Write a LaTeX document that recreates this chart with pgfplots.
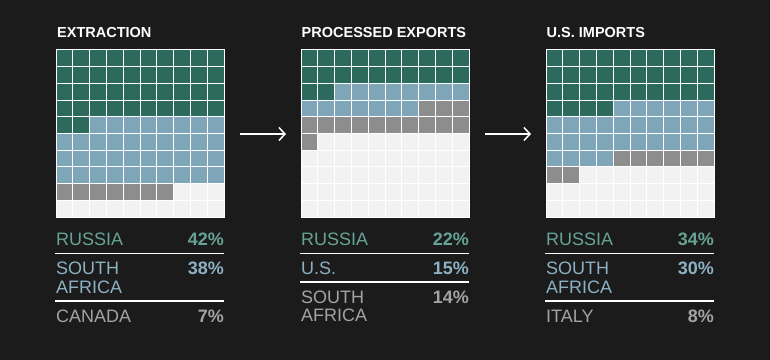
\documentclass[border=0pt]{standalone}
\usepackage{pgfplots}
\pgfplotsset{compat=1.18}
\usepackage{pgfplotstable}
\usetikzlibrary{arrows.meta}
\usepackage{fontspec}
\setmainfont{Liberation Sans}

\definecolor{bgc}{HTML}{1B1B1B}
\definecolor{cgreen}{HTML}{2C6A5E}
\definecolor{cblue}{HTML}{7EA6B8}
\definecolor{cgray}{HTML}{8D8D8D}
\definecolor{cempty}{HTML}{F2F2F2}
\definecolor{tgreen}{HTML}{67A394}
\definecolor{tblue}{HTML}{8CB1C3}
\definecolor{tgray}{HTML}{A3A3A3}

% rows of each 10x10 waffle: cells per category in each row
\pgfplotstableread{
row a b c rest
0.5 10 0 0 0
1.5 10 0 0 0
2.5 10 0 0 0
3.5 10 0 0 0
4.5 2 8 0 0
5.5 0 10 0 0
6.5 0 10 0 0
7.5 0 10 0 0
8.5 0 0 7 3
9.5 0 0 0 10
}\extraction
\pgfplotstableread{
row a b c rest
0.5 10 0 0 0
1.5 10 0 0 0
2.5 2 8 0 0
3.5 0 7 3 0
4.5 0 0 10 0
5.5 0 0 1 9
6.5 0 0 0 10
7.5 0 0 0 10
8.5 0 0 0 10
9.5 0 0 0 10
}\processed
\pgfplotstableread{
row a b c rest
0.5 10 0 0 0
1.5 10 0 0 0
2.5 10 0 0 0
3.5 4 6 0 0
4.5 0 10 0 0
5.5 0 10 0 0
6.5 0 4 6 0
7.5 0 0 2 8
8.5 0 0 0 10
9.5 0 0 0 10
}\imports

\pgfplotsset{
  waffle/.style={
    xbar stacked, bar width=1,
    width=168bp, height=167bp, scale only axis,
    anchor=north west,
    xmin=0, xmax=10, ymin=0, ymax=10, y dir=reverse,
    enlarge x limits=false, enlarge y limits=false,
    xtick={0,1,...,10}, ytick={0,1,...,10},
    xticklabels={}, yticklabels={},
    major tick length=0pt,
    grid=major, grid style={white, line width=1bp},
    axis line style={white, line width=1bp},
    axis on top,
  },
}

\newcommand{\waffleplots}[1]{%
  \addplot[fill=cgreen, draw=none] table[x=a, y=row] {#1};
  \addplot[fill=cblue, draw=none] table[x=b, y=row] {#1};
  \addplot[fill=cgray, draw=none] table[x=c, y=row] {#1};
  \addplot[fill=cempty, draw=none] table[x=rest, y=row] {#1};
}

\begin{document}
\begin{tikzpicture}
\fill[bgc] (0,0) rectangle (770bp,360bp);

\begin{axis}[waffle, at={(56bp,310bp)}]
\waffleplots{\extraction}
\end{axis}
\begin{axis}[waffle, at={(301bp,310bp)}]
\waffleplots{\processed}
\end{axis}
\begin{axis}[waffle, at={(546bp,310bp)}]
\waffleplots{\imports}
\end{axis}

% titles
\tikzset{ttl/.style={anchor=base west, inner sep=0pt, text=white, font=\fontsize{14.5bp}{16bp}\selectfont\bfseries}}
\node[ttl] at (57bp,322.3bp) {EXTRACTION};
\node[ttl] at (301.5bp,322.3bp) {PROCESSED EXPORTS};
\node[ttl] at (546.5bp,322.3bp) {U.S. IMPORTS};

% arrows
\draw[white, line width=1.5bp, -{Straight Barb[length=6bp,width=13bp,line width=1.5bp]}] (240bp,226bp) -- (286bp,226bp);
\draw[white, line width=1.5bp, -{Straight Barb[length=6bp,width=13bp,line width=1.5bp]}] (485bp,226bp) -- (531bp,226bp);

% labels
\tikzset{
  lab/.style={anchor=base west, inner sep=0pt, font=\fontsize{18bp}{20bp}\selectfont},
  pct/.style={anchor=base east, inner sep=0pt, font=\fontsize{18bp}{20bp}\selectfont\bfseries},
}
% Extraction
\node[lab, text=tgreen] at (56bp,114.3bp) {RUSSIA};
\node[pct, text=tgreen] at (224bp,114.3bp) {42\%};
\draw[white, line width=1.2bp] (55bp,106.7bp) -- (224bp,106.7bp);
\node[lab, text=tblue] at (56bp,85bp) {SOUTH};
\node[lab, text=tblue] at (56bp,66.7bp) {AFRICA};
\node[pct, text=tblue] at (224bp,85bp) {38\%};
\draw[white, line width=1.2bp] (55bp,59bp) -- (224bp,59bp);
\node[lab, text=tgray] at (56bp,37.3bp) {CANADA};
\node[pct, text=tgray] at (224bp,37.3bp) {7\%};

% Processed exports
\node[lab, text=tgreen] at (301bp,114.3bp) {RUSSIA};
\node[pct, text=tgreen] at (469bp,114.3bp) {22\%};
\draw[white, line width=1.2bp] (300bp,106.7bp) -- (469bp,106.7bp);
\node[lab, text=tblue] at (301bp,85bp) {U.S.};
\node[pct, text=tblue] at (469bp,85bp) {15\%};
\draw[white, line width=1.2bp] (300bp,78bp) -- (469bp,78bp);
\node[lab, text=tgray] at (301bp,56.7bp) {SOUTH};
\node[lab, text=tgray] at (301bp,38.3bp) {AFRICA};
\node[pct, text=tgray] at (469bp,56.7bp) {14\%};

% U.S. imports
\node[lab, text=tgreen] at (546bp,114.3bp) {RUSSIA};
\node[pct, text=tgreen] at (714bp,114.3bp) {34\%};
\draw[white, line width=1.2bp] (545bp,106.7bp) -- (714bp,106.7bp);
\node[lab, text=tblue] at (546bp,85bp) {SOUTH};
\node[lab, text=tblue] at (546bp,66.7bp) {AFRICA};
\node[pct, text=tblue] at (714bp,85bp) {30\%};
\draw[white, line width=1.2bp] (545bp,59bp) -- (714bp,59bp);
\node[lab, text=tgray] at (546bp,37.3bp) {ITALY};
\node[pct, text=tgray] at (714bp,37.3bp) {8\%};
\end{tikzpicture}
\end{document}
